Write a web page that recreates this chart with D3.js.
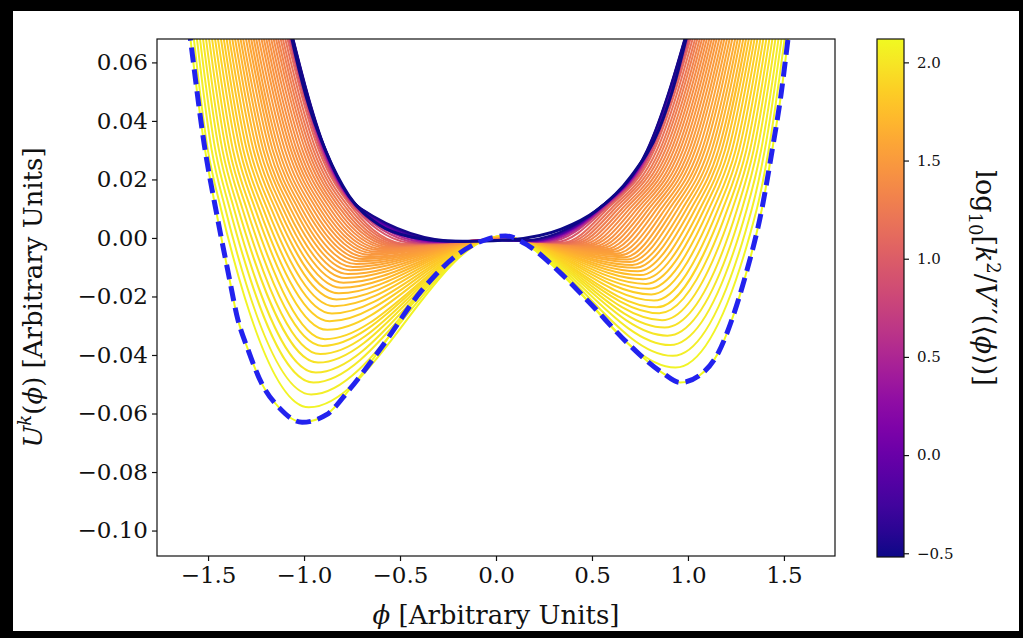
<!DOCTYPE html>
<html>
<head>
<meta charset="utf-8">
<script src="https://cdn.jsdelivr.net/npm/d3@7"></script>
<style>
body { margin: 0; background: #000; }
</style>
</head>
<body>
<script>
// bare potential (dashed)
var barePhi = [-1.615, -1.59, -1.52, -1.453, -1.39, -1.35, -1.29, -1.22, -1.13, -1.01, -0.885, -0.766,
  -0.6, -0.39, -0.19, -0.04, 0.05, 0.17, 0.33, 0.5, 0.68, 0.865, 0.96, 1.06, 1.16, 1.23, 1.3,
  1.385, 1.44, 1.484, 1.517, 1.543];
var bareU = [0.08, 0.067, 0.032, 0.0075, -0.0135, -0.0265, -0.0385, -0.0498, -0.058, -0.063, -0.0605, -0.052,
  -0.0377, -0.0182, -0.0052, -0.0003, 0.0007, -0.0027, -0.0116, -0.023, -0.0356, -0.046, -0.0494, -0.047, -0.039, -0.0277, -0.0128,
  0.0099, 0.0305, 0.0486, 0.0658, 0.08];

// last (darkest) curve of the flow
var finalPhi = [-1.10, -1.063, -0.99, -0.885, -0.766, -0.61, -0.44, -0.25, -0.1, 0.08, 0.34, 0.52, 0.7, 0.85, 0.937, 0.99, 1.033];
var finalU = [0.08, 0.068, 0.0486, 0.0294, 0.0144, 0.0045, 0.0003, -0.001, -0.0011, -0.0006, 0.003, 0.0092, 0.0208, 0.0373, 0.0544, 0.068, 0.08];

// intermediate curves, one entry per curve (yellow -> purple)
var logK = [2.08, 2.05, 2.03, 2.00, 1.98, 1.95, 1.93, 1.90, 1.88, 1.85,
  1.83, 1.80, 1.77, 1.74, 1.71, 1.68, 1.66, 1.63, 1.61, 1.59,
  1.57, 1.55, 1.53, 1.51, 1.49, 1.47, 1.45, 1.43, 1.41, 1.39,
  1.36, 1.32, 1.28, 1.24, 1.19, 1.13,
  0.95, 0.75, 0.50, 0.25, 0.00, -0.20, -0.35, -0.48];

var wallLevels = [0.08, 0.03, 0.01];
// phi where each curve crosses the wall levels, left side
var leftTop = [-1.594, -1.579, -1.564, -1.549, -1.534, -1.519, -1.504, -1.489, -1.475, -1.460, -1.446, -1.432,
  -1.418, -1.404, -1.390, -1.376, -1.363, -1.350, -1.336, -1.323, -1.310, -1.297, -1.285, -1.272,
  -1.259, -1.247, -1.235, -1.223, -1.211, -1.199, -1.187, -1.176, -1.164, -1.153, -1.141, -1.130,
  -1.122, -1.116, -1.112, -1.108, -1.106, -1.104, -1.102, -1.101];
var leftMid = [-1.501, -1.481, -1.462, -1.443, -1.425, -1.406, -1.388, -1.370, -1.351, -1.333, -1.316, -1.298,
  -1.281, -1.263, -1.246, -1.229, -1.212, -1.196, -1.179, -1.163, -1.147, -1.131, -1.115, -1.099,
  -1.083, -1.068, -1.053, -1.038, -1.023, -1.008, -0.993, -0.979, -0.965, -0.951, -0.937, -0.923,
  -0.913, -0.905, -0.900, -0.895, -0.892, -0.889, -0.888, -0.886];
var leftLow = [-1.433, -1.410, -1.387, -1.365, -1.343, -1.321, -1.299, -1.277, -1.255, -1.234, -1.213, -1.192,
  -1.171, -1.150, -1.130, -1.110, -1.090, -1.070, -1.050, -1.031, -1.012, -0.992, -0.974, -0.955,
  -0.936, -0.918, -0.900, -0.882, -0.864, -0.846, -0.829, -0.812, -0.795, -0.778, -0.761, -0.745,
  -0.733, -0.724, -0.717, -0.712, -0.708, -0.705, -0.703, -0.702];
var leftMinPhi = [-0.975, -0.963, -0.951, -0.939, -0.927, -0.915, -0.903, -0.891, -0.879, -0.867, -0.855, -0.843,
  -0.831, -0.819, -0.807, -0.795, -0.783, -0.771, -0.759, -0.747, -0.729, -0.711, -0.693, -0.675,
  -0.657, -0.639, -0.621, -0.603, -0.585, -0.567, -0.549, -0.531, -0.513, -0.495, -0.477, -0.459,
  -0.42, -0.38, -0.34, -0.30, -0.27, -0.24, -0.21, -0.19];
var leftMinU = [-0.0579, -0.0535, -0.0494, -0.0460, -0.0426, -0.0397, -0.0369, -0.0346, -0.0314, -0.0285, -0.0258, -0.0233,
  -0.0210, -0.0189, -0.0170, -0.0153, -0.0137, -0.0123, -0.0110, -0.0099, -0.0089, -0.0080, -0.0072, -0.0065,
  -0.0058, -0.0052, -0.0047, -0.0042, -0.0038, -0.0034, -0.0031, -0.0028, -0.0026, -0.0024, -0.0022, -0.0021,
  -0.0018, -0.0016, -0.0015, -0.0014, -0.0013, -0.0012, -0.0012, -0.0011];
var humpPhi = 0.03;
var humpU = [0.0006, 0.0006, 0.0005, 0.0005, 0.0004, 0.0004, 0.0003, 0.0003, 0.0002, 0.0002, 0.0001, 0.0001,
  0.0000, 0.0000, -0.0001, -0.0001, -0.0001, -0.0002, -0.0002, -0.0002, -0.0003, -0.0003, -0.0003, -0.0003,
  -0.0004, -0.0004, -0.0004, -0.0004, -0.0005, -0.0005, -0.0005, -0.0005, -0.0005, -0.0006, -0.0006, -0.0006,
  -0.0006, -0.0007, -0.0007, -0.0007, -0.0007, -0.0008, -0.0008, -0.0008];
var rightMinPhi = [0.935, 0.921, 0.907, 0.893, 0.879, 0.865, 0.851, 0.837, 0.823, 0.809, 0.795, 0.781,
  0.767, 0.753, 0.739, 0.725, 0.711, 0.697, 0.683, 0.669, 0.649, 0.629, 0.609, 0.589,
  0.569, 0.549, 0.529, 0.509, 0.489, 0.469, 0.449, 0.429, 0.409, 0.389, 0.369, 0.349,
  0.31, 0.27, 0.24, 0.21, 0.18, 0.16, 0.14, 0.12];
var rightMinU = [-0.0443, -0.0403, -0.0366, -0.0334, -0.0306, -0.0281, -0.0257, -0.0237, -0.0214, -0.0193, -0.0174, -0.0157,
  -0.0141, -0.0127, -0.0114, -0.0102, -0.0092, -0.0082, -0.0074, -0.0066, -0.0059, -0.0053, -0.0048, -0.0043,
  -0.0039, -0.0035, -0.0032, -0.0029, -0.0026, -0.0024, -0.0022, -0.0020, -0.0019, -0.0018, -0.0017, -0.0016,
  -0.0014, -0.0013, -0.0012, -0.0011, -0.0010, -0.0010, -0.0009, -0.0009];
var rightLow = [1.359, 1.333, 1.307, 1.282, 1.257, 1.232, 1.207, 1.182, 1.158, 1.134, 1.110, 1.086,
  1.063, 1.039, 1.016, 0.993, 0.971, 0.948, 0.926, 0.904, 0.882, 0.861, 0.839, 0.818,
  0.797, 0.777, 0.756, 0.736, 0.716, 0.696, 0.676, 0.657, 0.637, 0.618, 0.600, 0.581,
  0.568, 0.557, 0.550, 0.544, 0.539, 0.536, 0.533, 0.532];
var rightMid = [1.420, 1.400, 1.381, 1.361, 1.342, 1.323, 1.304, 1.285, 1.266, 1.248, 1.229, 1.211,
  1.193, 1.175, 1.158, 1.140, 1.123, 1.106, 1.088, 1.072, 1.055, 1.038, 1.022, 1.006,
  0.990, 0.974, 0.958, 0.943, 0.927, 0.912, 0.897, 0.882, 0.867, 0.853, 0.838, 0.824,
  0.814, 0.806, 0.800, 0.796, 0.792, 0.790, 0.788, 0.786];
var rightTop = [1.527, 1.512, 1.497, 1.482, 1.467, 1.452, 1.437, 1.422, 1.408, 1.393, 1.379, 1.365,
  1.351, 1.337, 1.323, 1.309, 1.296, 1.283, 1.269, 1.256, 1.243, 1.230, 1.218, 1.205,
  1.192, 1.180, 1.168, 1.156, 1.144, 1.132, 1.120, 1.109, 1.097, 1.086, 1.074, 1.063,
  1.055, 1.049, 1.045, 1.041, 1.039, 1.037, 1.035, 1.034];

var xTicks = [-1.5, -1.0, -0.5, 0.0, 0.5, 1.0, 1.5];
var yTicks = [0.06, 0.04, 0.02, 0.00, -0.02, -0.04, -0.06, -0.08, -0.10];
var cTicks = [2.0, 1.5, 1.0, 0.5, 0.0, -0.5];

var width = 1023, height = 638;
// plot box ("top" is taken by window.top, so use prefixed names)
var pLeft = 157, pRight = 835, pTop = 39, pBottom = 556;
var font = "DejaVu Serif";

var svg = d3.select("body").append("svg")
    .attr("width", width)
    .attr("height", height);

svg.append("rect")
    .attr("x", 13).attr("y", 11)
    .attr("width", 1006).attr("height", 620)
    .attr("fill", "#fff");

var x = d3.scaleLinear().domain([-1.766, 1.766]).range([pLeft, pRight]);
var y = d3.scaleLinear().domain([-0.1087, 0.068]).range([pBottom, pTop]);
var color = d3.scaleSequential(d3.interpolatePlasma).domain([-0.519, 2.119]);

svg.append("clipPath").attr("id", "plotclip")
  .append("rect")
    .attr("x", pLeft).attr("y", pTop)
    .attr("width", pRight - pLeft).attr("height", pBottom - pTop);

var line = d3.line()
    .x(function(d) { return x(d[0]); })
    .y(function(d) { return y(d[1]); })
    .curve(d3.curveMonotoneX);

var plot = svg.append("g").attr("clip-path", "url(#plotclip)");

var bare = d3.zip(barePhi, bareU);

plot.append("path")
    .datum(bare)
    .attr("d", line)
    .attr("fill", "none")
    .attr("stroke", color(2.119))
    .attr("stroke-width", 2);

var flow = logK.map(function(k, i) {
  return {
    k: k,
    pts: [
      [leftTop[i], wallLevels[0]], [leftMid[i], wallLevels[1]], [leftLow[i], wallLevels[2]],
      [leftMinPhi[i], leftMinU[i]], [humpPhi, humpU[i]], [rightMinPhi[i], rightMinU[i]],
      [rightLow[i], wallLevels[2]], [rightMid[i], wallLevels[1]], [rightTop[i], wallLevels[0]]
    ]
  };
});

plot.selectAll(".flow")
    .data(flow)
    .join("path")
    .attr("class", "flow")
    .attr("d", function(d) { return line(d.pts); })
    .attr("fill", "none")
    .attr("stroke", function(d) { return color(d.k); })
    .attr("stroke-width", 2);

plot.append("path")
    .datum(d3.zip(finalPhi, finalU))
    .attr("d", line)
    .attr("fill", "none")
    .attr("stroke", color(-0.519))
    .attr("stroke-width", 3);

plot.append("path")
    .datum(bare)
    .attr("d", line)
    .attr("fill", "none")
    .attr("stroke", "#2222ee")
    .attr("stroke-width", 5)
    .attr("stroke-dasharray", "15,7");

// axes
var xAxis = svg.append("g")
    .attr("transform", "translate(0," + pBottom + ")")
    .call(d3.axisBottom(x).tickValues(xTicks).tickFormat(d3.format(".1f")).tickSize(5).tickPadding(6));
var yAxis = svg.append("g")
    .attr("transform", "translate(" + pLeft + ",0)")
    .call(d3.axisLeft(y).tickValues(yTicks).tickFormat(d3.format(".2f")).tickSize(5).tickPadding(4));

[xAxis, yAxis].forEach(function(a) {
  a.select(".domain").remove();
  a.attr("font-family", font).attr("font-size", 23);
  a.selectAll("text").attr("fill", "#111");
  a.selectAll("line").attr("stroke", "#111").attr("stroke-width", 1.2);
});

svg.append("rect")
    .attr("x", pLeft).attr("y", pTop)
    .attr("width", pRight - pLeft).attr("height", pBottom - pTop)
    .attr("fill", "none")
    .attr("stroke", "#111")
    .attr("stroke-width", 1.2);

// axis labels
var xl = svg.append("text")
    .attr("x", (pLeft + pRight) / 2).attr("y", 624)
    .attr("text-anchor", "middle")
    .attr("font-family", font).attr("font-size", 26).attr("fill", "#111");
xl.append("tspan").attr("font-style", "italic").text("ϕ");
xl.append("tspan").text(" [Arbitrary Units]");

var yl = svg.append("text")
    .attr("transform", "translate(42," + (pTop + pBottom) / 2 + ") rotate(-90)")
    .attr("text-anchor", "middle")
    .attr("font-family", font).attr("font-size", 26).attr("fill", "#111");
yl.append("tspan").attr("font-style", "italic").text("U");
yl.append("tspan").attr("font-style", "italic").attr("font-size", 18).attr("dy", -11).text("k");
yl.append("tspan").attr("dy", 11).text("(");
yl.append("tspan").attr("font-style", "italic").text("ϕ");
yl.append("tspan").text(") [Arbitrary Units]");

// colorbar
var cbX = 877, cbW = 27, cbBottom = 557;
var cy = d3.scaleLinear().domain([-0.519, 2.119]).range([cbBottom, pTop]);

var grad = svg.append("defs").append("linearGradient")
    .attr("id", "cbgrad")
    .attr("x1", 0).attr("y1", 1).attr("x2", 0).attr("y2", 0);
grad.selectAll("stop")
    .data(d3.range(0, 1.0001, 0.05))
    .join("stop")
    .attr("offset", function(d) { return d; })
    .attr("stop-color", function(d) { return d3.interpolatePlasma(d); });

svg.append("rect")
    .attr("x", cbX).attr("y", pTop)
    .attr("width", cbW).attr("height", cbBottom - pTop)
    .attr("fill", "url(#cbgrad)")
    .attr("stroke", "#111")
    .attr("stroke-width", 1.2);

var cAxis = svg.append("g")
    .attr("transform", "translate(" + (cbX + cbW) + ",0)")
    .call(d3.axisRight(cy).tickValues(cTicks).tickFormat(d3.format(".1f")).tickSize(5).tickPadding(8));
cAxis.select(".domain").remove();
cAxis.attr("font-family", font).attr("font-size", 15);
cAxis.selectAll("text").attr("fill", "#111");
cAxis.selectAll("line").attr("stroke", "#111").attr("stroke-width", 1.2);

var cl = svg.append("text")
    .attr("transform", "translate(976,278) rotate(90)")
    .attr("text-anchor", "middle")
    .attr("font-family", font).attr("font-size", 27).attr("fill", "#111");
cl.append("tspan").text("log");
cl.append("tspan").attr("font-size", 18).attr("dy", 7).text("10");
cl.append("tspan").attr("dy", -7).text("[");
cl.append("tspan").attr("font-style", "italic").text("k");
cl.append("tspan").attr("font-size", 18).attr("dy", -11).text("2");
cl.append("tspan").attr("dy", 11).text("/");
cl.append("tspan").attr("font-style", "italic").text("V");
cl.append("tspan").text("′′(⟨");
cl.append("tspan").attr("font-style", "italic").text("ϕ");
cl.append("tspan").text("⟩)]");
</script>
</body>
</html>
